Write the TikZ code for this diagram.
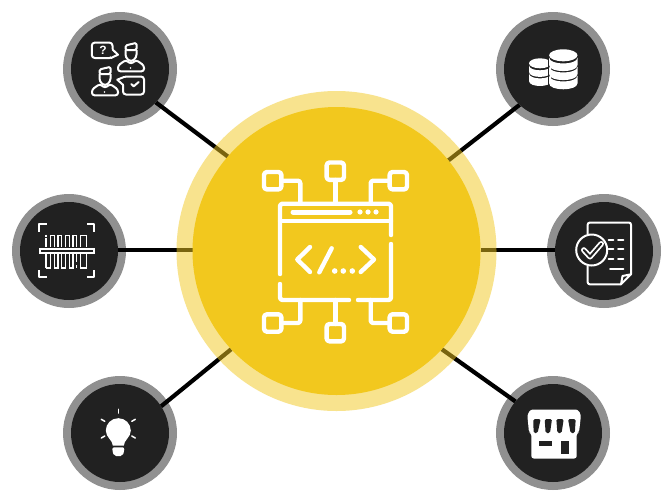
\documentclass[tikz,border=0pt]{standalone}
\usepackage{fontspec}
\setmainfont{Liberation Sans}
\usetikzlibrary{backgrounds}
\pgfdeclarelayer{links}
\pgfsetlayers{background,links,main}
\definecolor{hubyellow}{HTML}{F2C81E}
\definecolor{satdark}{HTML}{212121}
\definecolor{satring}{HTML}{909090}
\tikzset{
  hubnode/.style={circle,fill=hubyellow,inner sep=0pt,outer sep=0pt,minimum size=288pt},
  hubringnode/.style={circle,fill=hubyellow,fill opacity=.5,inner sep=0pt,outer sep=0pt,minimum size=320pt},
  satnode/.style={circle,fill=satdark,inner sep=0pt,outer sep=0pt,minimum size=98pt},
  satringnode/.style={circle,fill=satring,inner sep=0pt,outer sep=0pt,minimum size=114pt},
  linkline/.style={black,line width=4.2pt},
  hubline/.style={white,line width=4.4pt,line cap=round,line join=round,rounded corners=2.5pt},
  hubfine/.style={white,line width=4.4pt,line cap=round,line join=round},
  thin icon/.style={white,line width=2pt,line cap=round,line join=round},
  bar icon/.style={white,line width=1.5pt},
}
\newcommand{\hubsquare}[2]{\draw[hubline,rounded corners=3pt] (#1-8.7,#2-8.7) rectangle (#1+8.7,#2+8.7);}
\newcommand{\coinband}[5]{\fill[white] ({#1-#2},#4) .. controls ({#1-#2},{#4+1.33*#3}) and ({#1+#2},{#4+1.33*#3}) .. ({#1+#2},#4) -- ({#1+#2},{#4+#5}) .. controls ({#1+#2},{#4+#5+1.33*#3}) and ({#1-#2},{#4+#5+1.33*#3}) .. ({#1-#2},{#4+#5}) -- cycle;}
\newcommand{\personicon}[2]{%
  \begin{scope}[shift={(#1,#2)}]
    \draw[thin icon,rounded corners=2.5pt] (118,71.3) -- (118,65.5) -- (125.8,60) -- (131,64) -- (136.2,60) -- (144,65.5) -- (144,71.3) -- cycle;
    \draw[thin icon,rounded corners=3pt] (125.5,50) -- (125.5,57.5) -- (131,62) -- (136.5,57.5) -- (136.5,50);
    \draw[thin icon,rounded corners=1.5pt] (125.5,50) -- (125.5,45.5) -- (136.5,42.8) -- (136.5,50) -- cycle;
    \fill[white] (130.5,68) circle (.9);
  \end{scope}}
\begin{document}
\begin{tikzpicture}[x=1pt,y=-1pt]
\useasboundingbox (0,0) rectangle (671,501);
% hub and satellites
\node[hubringnode] (hubring) at (336.5,251) {};
\node[hubnode] (hub) at (336.5,251) {};
\node[satnode] (people) at (120,69) {};
\node[satnode] (barcode) at (69,251) {};
\node[satnode] (bulb) at (120,433) {};
\node[satnode] (coins) at (553,69) {};
\node[satnode] (doc) at (604,251) {};
\node[satnode] (store) at (553,433) {};
\begin{pgfonlayer}{background}
  \fill[white] (0,0) rectangle (671,501);
  \node[satringnode] (peoplering) at (people) {};
  \node[satringnode] (barcodering) at (barcode) {};
  \node[satringnode] (bulbring) at (bulb) {};
  \node[satringnode] (coinsring) at (coins) {};
  \node[satringnode] (docring) at (doc) {};
  \node[satringnode] (storering) at (store) {};
\end{pgfonlayer}
% connectors
\begin{pgfonlayer}{links}
  \draw[linkline] (hub.139) -- (people.-43);
  \draw[linkline] ([yshift=1.4pt]hub.west) -- ([yshift=1.4pt]barcode.east);
  \draw[linkline] (hub.223.7) -- (bulb.33);
  \draw[linkline] (hub.39.5) -- (coins.-133);
  \draw[linkline] ([yshift=1.4pt]hub.east) -- ([yshift=1.4pt]doc.west);
  \draw[linkline] (hub.-43) -- (store.140);
\end{pgfonlayer}
% hub icon: window
\draw[hubline] (280,274) -- (280,203.7) -- (391,203.7) -- (391,235);
\draw[hubline] (280,284) -- (280,300) -- (349,300);
\draw[hubline] (358,300) -- (391,300) -- (391,244);
\draw[hubfine] (280,221) -- (391,221);
\draw[hubfine,line width=5pt] (293,212) -- (350,212);
\foreach \dotx in {360,368,376} \fill[white] (\dotx,212) circle (2.6);
% hub icon: code
\draw[hubfine] (310,247) -- (297.3,259.5) -- (310,272);
\draw[hubfine] (331.7,248.3) -- (319.3,272.3);
\foreach \dotx in {334.7,343.3,352.3} \fill[white] (\dotx,271) circle (2.8);
\draw[hubfine] (360.7,247) -- (374,259.5) -- (360.7,272);
% hub icon: terminals
\hubsquare{335.3}{171.2}
\hubsquare{272.7}{180.7}
\hubsquare{398.3}{180.7}
\hubsquare{272.7}{323}
\hubsquare{335.3}{332.7}
\hubsquare{398.3}{323}
\draw[hubline] (335.3,180) -- (335.3,203.7);
\draw[hubline] (281.4,180.7) -- (300.3,180.7) -- (300.3,203.7);
\draw[hubline] (389.6,180.7) -- (370.7,180.7) -- (370.7,203.7);
\draw[hubline] (335.3,300) -- (335.3,324);
\draw[hubline] (281.4,323) -- (300.3,323) -- (300.3,300);
\draw[hubline] (389.6,323) -- (370.7,323) -- (370.7,300);
% people icon
\draw[thin icon,rounded corners=3pt] (91.8,42.6) rectangle (112.5,58);
\fill[satdark] (110.5,49) rectangle (113.5,57);
\draw[thin icon] (112.5,49.5) -- (118,54.7) -- (111,58);
\node[white,font=\bfseries\fontsize{12}{12}\selectfont,inner sep=0pt] (qmark) at (103,50.5) {?};
\personicon{0}{0}
\personicon{-26}{24}
\draw[thin icon,rounded corners=3pt] (123,76.5) rectangle (144,94.5);
\fill[satdark] (121.5,78) rectangle (124.5,85);
\draw[thin icon] (124,77) -- (117.3,79.7) -- (123.2,85);
\draw[thin icon] (131.3,84) -- (133.7,86.3) -- (138.7,82);
% barcode icon
\draw[thin icon,line cap=butt,line width=2.2pt] (39.3,231.6) -- (39.3,224.3) -- (46.6,224.3);
\draw[thin icon,line cap=butt,line width=2.2pt] (87,224.3) -- (94.3,224.3) -- (94.3,231.6);
\draw[thin icon,line cap=butt,line width=2.2pt] (39.3,270) -- (39.3,277.3) -- (46.6,277.3);
\draw[thin icon,line cap=butt,line width=2.2pt] (87,277.3) -- (94.3,277.3) -- (94.3,270);
\foreach \barx in {50.5,54.5,58,61.5,65.5,69.5,73,76.5,80.5,86.5} {
  \draw[bar icon] (\barx,235) -- (\barx,247.3);
  \draw[bar icon] (\barx,254.3) -- (\barx,268.3);
}
\draw[bar icon] (46,238) -- (46,247.3);
\draw[bar icon] (46,234.5) -- (46,236.5);
\draw[bar icon] (46,254.3) -- (46,268.3);
\foreach \barx/\bary in {50/55,58/62,65/70,73/77,80/87} \draw[bar icon] (\barx,235.3) -- (\bary,235.3);
\foreach \barx/\bary in {46/51,54/58.5,61/66,69/73.5,80/87} \draw[bar icon] (\barx,268) -- (\bary,268);
\fill[satdark] (76,262) rectangle (78,265);
\draw[white,line width=2pt] (39.8,248.6) rectangle (94.3,253);
% bulb icon
\fill[white] (112.8,445.5) .. controls (112.8,440.5) and (105.8,437) .. (105.8,430.7) .. controls (105.8,423.7) and (111.3,418.2) .. (118.3,418.2) .. controls (125.3,418.2) and (130.8,423.7) .. (130.8,430.7) .. controls (130.8,437) and (123.8,440.5) .. (123.8,445.5) -- cycle;
\fill[white,rounded corners=2pt] (112.3,447.3) -- (124.3,447.3) -- (124.3,451) -- (122.5,456) -- (114.1,456) -- (112.3,451) -- cycle;
\draw[thin icon,line width=1.5pt] (118.3,409.3) -- (118.3,413);
\draw[thin icon,line width=1.5pt] (101.3,419.3) -- (104.8,421.3);
\draw[thin icon,line width=1.5pt] (101.3,438) -- (104.8,436);
\draw[thin icon,line width=1.5pt] (135.3,419.3) -- (131.8,421.3);
\draw[thin icon,line width=1.5pt] (135.3,438) -- (131.8,436);
% coins icon
\fill[white] (540,63.3) ellipse (11 and 5);
\coinband{540}{11}{5}{65.3}{6.6}
\coinband{540}{11}{5}{73.4}{7.6}
\fill[satdark] (548.4,58) rectangle (549.8,90);
\fill[white] (563.3,55.3) ellipse (14.2 and 6);
\coinband{563.3}{14.2}{6}{57.5}{7.6}
\coinband{563.3}{14.2}{6}{66.5}{7.6}
\coinband{563.3}{14.2}{6}{75.5}{7.8}
% document icon
\draw[thin icon,rounded corners=2pt] (587.7,234) -- (587.7,222.6) -- (631,222.6) -- (631,274.3);
\draw[thin icon,rounded corners=2pt] (587.7,266) -- (587.7,284.3) -- (621,284.3);
\draw[thin icon] (621,284.3) -- (631,274.3) -- (622.5,276) -- cycle;
\draw[thin icon] (591.7,250) circle (15.5);
\draw[white,line width=5.6pt,line cap=round,line join=round] (583.8,250) -- (590,256.7) -- (601.2,243.8);
\draw[satdark,line width=2pt,line cap=round,line join=round] (583.8,250) -- (590,256.7) -- (601.2,243.8);
\foreach \docy in {240,249.3,259} {
  \draw[thin icon] (608.5,\docy) -- (613.3,\docy);
  \draw[thin icon] (618.2,\docy) -- (623.3,\docy);
}
\draw[thin icon] (610,269.3) -- (623.3,269.3);
% store icon
\fill[white,rounded corners=2.5pt] (530.5,409.5) -- (578,409.5) -- (581,415) -- (579,432.5) -- (576.7,433) -- (576.7,458.5) -- (531.3,458.5) -- (531.3,433) -- (529,432.5) -- (527.3,415) -- cycle;
\foreach \slotA/\slotB/\slotC/\slotD in {533.3/540.7/533.6/537.6,544.7/552/545.6/550,556.3/563.7/557.4/561.6,568/575.7/570.6/574.8}
  \fill[satdark,rounded corners=1.5pt] (\slotA,419) -- (\slotB,419) -- (\slotD,433) -- (\slotC,433) -- cycle;
\fill[satdark] (539,440.7) rectangle (551.7,446);
\fill[satdark] (560.7,441.3) rectangle (569,454);
\end{tikzpicture}
\end{document}
